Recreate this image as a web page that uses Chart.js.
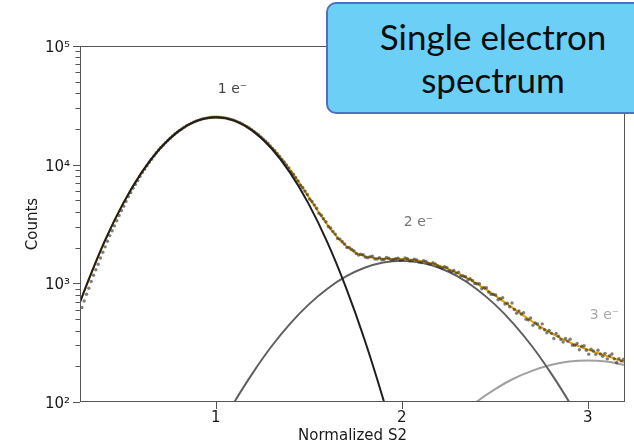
<!DOCTYPE html>
<html>
<head>
<meta charset="utf-8">
<script src="https://cdn.jsdelivr.net/npm/chart.js@4.4.0/dist/chart.umd.min.js"></script>
<style>
  body { margin: 0; background: #fff; }
  #wrap { position: relative; width: 634px; height: 444px; overflow: hidden; }
  #c { position: absolute; left: 0; top: 0; }
  .title-box {
    position: absolute; left: 326px; top: 2px; width: 334px; height: 112px;
    box-sizing: border-box; background: #6ccff6; border: 2px solid #4a72c0; border-radius: 10px;
    font-family: Lato, "Open Sans", sans-serif; font-size: 35px; line-height: 43px; color: #0d0d0d;
    display: flex; flex-direction: column; justify-content: center; align-items: center;
  }
</style>
</head>
<body>
<div id="wrap">
  <canvas id="c" width="634" height="444"></canvas>
  <div class="title-box"><div>Single electron</div><div>spectrum</div></div>
</div>
<script>
// Measured points (normalized S2 vs counts)
const sampleX = [
  0.280, 0.305, 0.330, 0.355, 0.380, 0.405, 0.430, 0.455, 0.480, 0.505,
  0.530, 0.555, 0.580, 0.605, 0.630, 0.655, 0.680, 0.705, 0.730, 0.755,
  0.780, 0.805, 0.830, 0.855, 0.880, 0.905, 0.930, 0.955, 0.980, 1.005,
  1.030, 1.055, 1.080, 1.105, 1.130, 1.155, 1.180, 1.205, 1.230, 1.255,
  1.280, 1.305, 1.330, 1.355, 1.380, 1.405, 1.430, 1.455, 1.480, 1.505,
  1.530, 1.555, 1.580, 1.605, 1.630, 1.655, 1.680, 1.705, 1.730, 1.755,
  1.780, 1.805, 1.830, 1.855, 1.880, 1.905, 1.930, 1.955, 1.980, 2.005,
  2.030, 2.055, 2.080, 2.105, 2.130, 2.155, 2.180, 2.205, 2.230, 2.255,
  2.280, 2.305, 2.330, 2.355, 2.380, 2.405, 2.430, 2.455, 2.480, 2.505,
  2.530, 2.555, 2.580, 2.605, 2.630, 2.655, 2.680, 2.705, 2.730, 2.755,
  2.780, 2.805, 2.830, 2.855, 2.880, 2.905, 2.930, 2.955, 2.980, 3.005,
  3.030, 3.055, 3.080, 3.105, 3.130, 3.155, 3.180, 3.205
];
const sampleCounts = [
  625, 810, 1035, 1300, 1635, 2030, 2525, 3050, 3730, 4470,
  5380, 6340, 7330, 8590, 9780, 11130, 12590, 13950, 15350, 16700,
  18150, 19400, 20700, 21750, 22850, 23600, 24350, 24750, 25100, 25150,
  25000, 24650, 24100, 23400, 22550, 21450, 20400, 19050, 17850, 16400,
  15150, 13680, 12450, 11050, 9950, 8730, 7790, 6720, 5990, 5120,
  4580, 3890, 3500, 3010, 2740, 2390, 2250, 2000, 1940, 1780,
  1760, 1660, 1680, 1600, 1645, 1590, 1625, 1580, 1630, 1570,
  1610, 1550, 1575, 1500, 1530, 1445, 1460, 1370, 1380, 1280,
  1283, 1242, 1153, 1066, 1055, 991, 899, 919, 807, 798,
  742, 669, 634, 601, 586, 566, 492, 444, 454, 455,
  383, 379, 378, 337, 343, 338, 301, 276, 298, 253,
  269, 273, 243, 231, 254, 215, 222, 206
];
// Points in between (the histogram bins are narrow)
const sampleXMid = [
  0.2925, 0.3175, 0.3425, 0.3675, 0.3925, 0.4175, 0.4425, 0.4675, 0.4925, 0.5175,
  0.5425, 0.5675, 0.5925, 0.6175, 0.6425, 0.6675, 0.6925, 0.7175, 0.7425, 0.7675,
  0.7925, 0.8175, 0.8425, 0.8675, 0.8925, 0.9175, 0.9425, 0.9675, 0.9925, 1.0175,
  1.0425, 1.0675, 1.0925, 1.1175, 1.1425, 1.1675, 1.1925, 1.2175, 1.2425, 1.2675,
  1.2925, 1.3175, 1.3425, 1.3675, 1.3925, 1.4175, 1.4425, 1.4675, 1.4925, 1.5175,
  1.5425, 1.5675, 1.5925, 1.6175, 1.6425, 1.6675, 1.6925, 1.7175, 1.7425, 1.7675,
  1.7925, 1.8175, 1.8425, 1.8675, 1.8925, 1.9175, 1.9425, 1.9675, 1.9925, 2.0175,
  2.0425, 2.0675, 2.0925, 2.1175, 2.1425, 2.1675, 2.1925, 2.2175, 2.2425, 2.2675,
  2.2925, 2.3175, 2.3425, 2.3675, 2.3925, 2.4175, 2.4425, 2.4675, 2.4925, 2.5175,
  2.5425, 2.5675, 2.5925, 2.6175, 2.6425, 2.6675, 2.6925, 2.7175, 2.7425, 2.7675,
  2.7925, 2.8175, 2.8425, 2.8675, 2.8925, 2.9175, 2.9425, 2.9675, 2.9925, 3.0175,
  3.0425, 3.0675, 3.0925, 3.1175, 3.1425, 3.1675, 3.1925
];
const sampleCountsMid = [
  710, 910, 1170, 1450, 1830, 2265, 2775, 3370, 4105, 4905,
  5810, 6820, 7940, 9170, 10490, 11850, 13300, 14650, 16000, 17450,
  18800, 20000, 21250, 22300, 23200, 24000, 24550, 24950, 25120, 25080,
  24820, 24400, 23800, 22950, 22050, 20900, 19750, 18450, 17150, 15800,
  14400, 13100, 11800, 10550, 9400, 8300, 7300, 6420, 5600, 4900,
  4290, 3750, 3300, 2930, 2600, 2360, 2150, 2010, 1880, 1730,
  1740, 1640, 1690, 1600, 1580, 1650, 1570, 1615, 1560, 1640,
  1545, 1600, 1510, 1555, 1470, 1490, 1400, 1340, 1360, 1250,
  1220, 1155, 1137, 1093, 998, 992, 919, 841, 807, 728,
  755, 681, 683, 559, 551, 497, 511, 463, 420, 406,
  401, 343, 359, 320, 326, 301, 311, 295, 273, 278,
  252, 254, 257, 245, 231, 232, 229
];
// Total fit (orange), same x as samples
const fitTotal = [
  760, 966, 1216, 1517, 1878, 2306, 2805, 3388, 4055, 4808,
  5662, 6607, 7638, 8770, 9977, 11246, 12590, 13960, 15350, 16750,
  18110, 19450, 20650, 21790, 22800, 23650, 24300, 24780, 25060, 25160,
  25010, 24690, 24140, 23430, 22520, 21510, 20350, 19100, 17790, 16440,
  15070, 13720, 12390, 11120, 9900, 8780, 7725, 6780, 5930, 5175,
  4510, 3940, 3447, 3042, 2700, 2430, 2210, 2038, 1906, 1808,
  1737, 1687, 1655, 1633, 1621, 1614, 1609, 1606, 1609, 1602,
  1592, 1577, 1559, 1536, 1509, 1476, 1440, 1399, 1356, 1307,
  1258, 1206, 1153, 1099, 1045, 991, 936, 884, 832, 782,
  735, 690, 647, 607, 569, 534, 502, 472, 445, 421,
  399, 379, 360, 344, 330, 316, 304, 294, 284, 275,
  266, 258, 251, 243, 237, 229, 222, 215
];
// Single-, double-, triple-electron components
const oneX = [0.27, 0.3, 0.4, 0.5, 0.6, 0.7, 0.8, 0.9, 1.0, 1.1, 1.2, 1.3, 1.4, 1.5, 1.6, 1.7, 1.8, 1.9, 2.0];
const oneCounts = [690, 920, 2213, 4650, 8530, 13680, 19170, 23480, 25120, 23480, 19170, 13680, 8530, 4650, 2213, 920, 335, 106, 30];
const twoX = [1.0, 1.1, 1.2, 1.3, 1.4, 1.5, 1.6, 1.7, 1.8, 1.9, 2.0, 2.1, 2.2, 2.3, 2.4, 2.5, 2.6, 2.7, 2.8, 2.9, 3.0];
const twoCounts = [52, 100, 177, 295, 458, 665, 901, 1142, 1352, 1497, 1549, 1497, 1352, 1142, 901, 665, 458, 295, 177, 100, 52];
const threeX = [2.2, 2.3, 2.4, 2.5, 2.6, 2.7, 2.8, 2.9, 3.0, 3.1, 3.2];
const threeCounts = [54, 75, 100, 128, 157, 183, 205, 219, 224, 219, 205];

const xTickValues = [1, 2, 3];
const yTickValues = [100, 1000, 10000, 100000];
const yTickLabels = ['10²', '10³', '10⁴', '10⁵'];

const peakLabels = ['1 e⁻', '2 e⁻', '3 e⁻'];
const peakLabelX = [1.09, 2.09, 3.09];
const peakLabelY = [43400, 3270, 537];

const toPoints = (xs, ys) => xs.map((v, i) => ({ x: v, y: ys[i] }));
const axisFont = { family: 'DejaVu Sans', size: 15 };
const dotStyle = {
  type: 'scatter',
  showLine: false,
  pointRadius: 1.7,
  pointBackgroundColor: 'rgba(40,40,40,0.6)',
  pointBorderWidth: 0,
  order: 1
};

// frame, tick marks and peak labels
const overlay = {
  id: 'overlay',
  afterDraw(chart) {
    const { ctx, chartArea: a, scales: { x, y } } = chart;
    ctx.save();
    ctx.strokeStyle = '#555';
    ctx.lineWidth = 1;
    ctx.strokeRect(a.left + 0.5, a.top + 0.5, a.right - a.left - 1, a.bottom - a.top - 1);

    ctx.beginPath();
    for (let e = 2; e <= 5; e++) {
      for (let m = 1; m <= 9; m++) {
        if (e === 5 && m > 1) break;
        const py = Math.round(y.getPixelForValue(m * Math.pow(10, e))) + 0.5;
        const len = m === 1 ? 7 : 4.5;
        ctx.moveTo(a.left - len, py);
        ctx.lineTo(a.left, py);
      }
    }
    xTickValues.forEach(v => {
      const px = Math.round(x.getPixelForValue(v)) + 0.5;
      ctx.moveTo(px, a.bottom);
      ctx.lineTo(px, a.bottom + 7);
    });
    ctx.stroke();

    const colors = ['#444', '#777', '#a8a8a8'];
    ctx.font = '14px "DejaVu Sans"';
    ctx.textAlign = 'center';
    ctx.textBaseline = 'middle';
    peakLabels.forEach((t, i) => {
      ctx.fillStyle = colors[i];
      ctx.fillText(t, x.getPixelForValue(peakLabelX[i]), y.getPixelForValue(peakLabelY[i]));
    });
    ctx.restore();
  }
};

new Chart(document.getElementById('c'), {
  type: 'line',
  data: {
    datasets: [
      Object.assign({ data: toPoints(sampleX, sampleCounts) }, dotStyle),
      Object.assign({ data: toPoints(sampleXMid, sampleCountsMid) }, dotStyle),
      {
        data: toPoints(oneX, oneCounts),
        borderColor: '#1e1e1e',
        borderWidth: 2,
        pointRadius: 0,
        tension: 0.4,
        order: 0
      },
      {
        data: toPoints(sampleX, fitTotal),
        borderColor: '#e0a000',
        borderWidth: 2,
        pointRadius: 0,
        tension: 0.3,
        order: 2
      },
      {
        data: toPoints(twoX, twoCounts),
        borderColor: '#606060',
        borderWidth: 2,
        pointRadius: 0,
        tension: 0.4,
        order: 3
      },
      {
        data: toPoints(threeX, threeCounts),
        borderColor: '#a0a0a0',
        borderWidth: 2,
        pointRadius: 0,
        tension: 0.4,
        order: 4
      }
    ]
  },
  options: {
    responsive: false,
    animation: false,
    layout: { padding: { left: 0, top: 46, right: 9, bottom: 0 } },
    plugins: { legend: { display: false }, tooltip: { enabled: false } },
    scales: {
      x: {
        type: 'linear',
        min: 0.27,
        max: 3.2,
        afterBuildTicks: s => { s.ticks = xTickValues.map(v => ({ value: v })); },
        afterFit: s => { s.height = 42; },
        grid: { display: false, drawTicks: false },
        border: { display: false },
        ticks: { font: axisFont, color: '#1a1a1a', padding: 7, maxRotation: 0, callback: v => String(v) },
        title: { display: true, text: 'Normalized S2', font: { family: 'DejaVu Sans', size: 15, lineHeight: 1.1 }, color: '#1a1a1a', padding: 0 }
      },
      y: {
        type: 'logarithmic',
        min: 100,
        max: 100000,
        afterBuildTicks: s => { s.ticks = yTickValues.map(v => ({ value: v })); },
        afterFit: s => { s.width = 80; },
        grid: { display: false, drawTicks: false },
        border: { display: false },
        ticks: {
          font: axisFont, color: '#1a1a1a', padding: 10, labelOffset: 2,
          callback: v => yTickLabels[Math.round(Math.log10(v)) - 2]
        },
        title: { display: true, text: 'Counts', font: axisFont, color: '#1a1a1a', padding: { top: 24, bottom: 0 } }
      }
    }
  },
  plugins: [overlay]
});
</script>
</body>
</html>
